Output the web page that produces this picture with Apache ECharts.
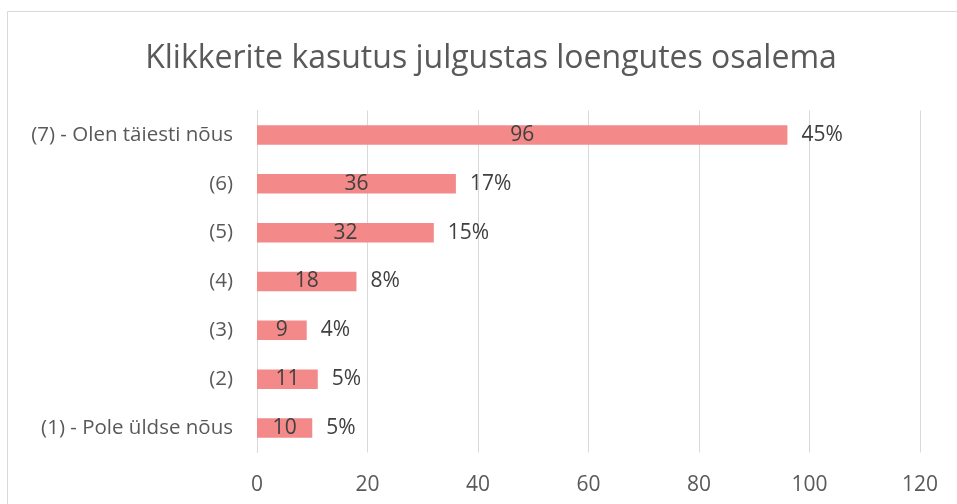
<!DOCTYPE html>
<html><head><meta charset="utf-8">
<script src="https://cdn.jsdelivr.net/npm/echarts@6/dist/echarts.min.js"></script>
<style>html,body{margin:0;padding:0;background:#fff}#c{width:957px;height:504px}</style>
</head><body><div id="c"></div>
<script>
const title = 'Klikkerite kasutus julgustas loengutes osalema';
const categories = ['(1) - Pole üldse nõus','(2)','(3)','(4)','(5)','(6)','(7) - Olen täiesti nõus'];
const counts = [10, 11, 9, 18, 32, 36, 96];
const percents = ['5%','5%','4%','8%','15%','17%','45%'];
const xTicks = [0, 20, 40, 60, 80, 100, 120];

const FONT = 'Open Sans';
const chart = echarts.init(document.getElementById('c'), null, {renderer:'canvas'});
chart.setOption({
  animation: false,
  backgroundColor: '#fff',
  textStyle: {fontFamily: FONT},
  graphic: [{type:'rect', shape:{x:7.5,y:11.5,width:980,height:520}, style:{fill:'none',stroke:'#d9d9d9',lineWidth:1}, silent:true}],
  title: {text: title, left: 486, textAlign:'center', top: 38,
    textStyle:{fontFamily:FONT, fontSize:32, fontWeight:'normal', color:'#595959'}},
  grid: {left: 257, right: 957-920, top: 110.5, bottom: 504-452.5, containLabel:false},
  xAxis: {type:'value', min: xTicks[0], max: xTicks[xTicks.length-1], interval: 20,
    axisLine:{show:false}, axisTick:{show:false},
    splitLine:{show:true, lineStyle:{color:'#d9d9d9', width:1}},
    axisLabel:{fontFamily:FONT, fontSize:21, color:'#595959', margin:22}},
  yAxis: {type:'category', data: categories,
    axisLine:{show:true, lineStyle:{color:'#d9d9d9'}}, axisTick:{show:false},
    axisLabel:{fontFamily:FONT, fontSize:20.5, color:'#595959', margin:24}},
  series: [
    {type:'bar', data: counts, barWidth: 19.5, itemStyle:{color:'#f4898a'},
     label:{show:true, position:'inside', color:'#404040', fontFamily:FONT, fontSize:21}},
    {type:'bar', data: counts, barWidth: 19.5, barGap:'-100%', itemStyle:{color:'rgba(0,0,0,0)'},
     label:{show:true, position:'right', distance:14, color:'#404040', fontFamily:FONT, fontSize:21,
       formatter: p => percents[p.dataIndex]}, silent:true}
  ]
});
</script></body></html>
